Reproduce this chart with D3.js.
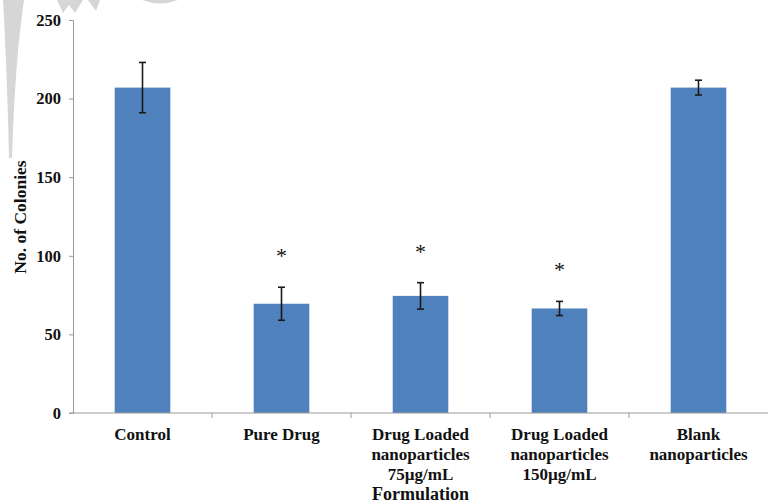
<!DOCTYPE html>
<html>
<head>
<meta charset="utf-8">
<script src="https://cdn.jsdelivr.net/npm/d3@7"></script>
<style>
  html, body { margin: 0; padding: 0; background: #fff; }
  svg { display: block; }
  text { font-family: "Liberation Serif", "Times New Roman", serif; font-weight: bold; fill: #111; }
</style>
</head>
<body>
<svg id="chart" width="768" height="504"></svg>
<script>
// Colony counts per formulation (mean and error)
const categories = [
  ["Control"],
  ["Pure Drug"],
  ["Drug Loaded", "nanoparticles", "75µg/mL"],
  ["Drug Loaded", "nanoparticles", "150µg/mL"],
  ["Blank", "nanoparticles"]
];
const means  = [207, 69.5, 74.5, 66.5, 207];
const errors = [16, 10.5, 8.4, 4.5, 4.7];
const significant = [false, true, true, true, false];
const yTicks = [0, 50, 100, 150, 200, 250];
const xTitle = "Formulation";
const yTitle = "No. of Colonies";

const svg = d3.select("#chart");
const m = { left: 73, right: 768, top: 20, bottom: 413 };

// faint grey mark in the top-left corner
const marks = svg.append("g").attr("fill", "#d6d6d6");
marks.append("path").attr("d", "M3,0 L24,0 Q15,60 12,158 L9,158 Q7,70 3,0 Z");
marks.append("path").attr("d", "M57,0 L83,0 L75,13 L69,5 L63,13 Z");
marks.append("path").attr("d", "M88,0 L100,0 L96,11 Z");
marks.append("path").attr("d", "M142,0 Q160,7 178,0 Z");

const keys = categories.map((c, i) => i);
const x = d3.scaleBand().domain(keys).range([m.left, m.right]).padding(0);
const y = d3.scaleLinear().domain([0, 250]).range([m.bottom, m.top]);
const barW = x.bandwidth() * 0.4;

// bars
svg.append("g").selectAll("rect").data(keys).join("rect")
  .attr("x", i => x(i) + (x.bandwidth() - barW) / 2)
  .attr("width", barW)
  .attr("y", i => y(means[i]))
  .attr("height", i => y(0) - y(means[i]))
  .attr("fill", "#4f81bd");

// error bars
const eb = svg.append("g").attr("stroke", "#1a1a1a").attr("stroke-width", 1.6);
keys.forEach(i => {
  const cx = x(i) + x.bandwidth() / 2;
  const hi = y(means[i] + errors[i]), lo = y(means[i] - errors[i]);
  eb.append("line").attr("x1", cx).attr("x2", cx).attr("y1", hi).attr("y2", lo);
  eb.append("line").attr("x1", cx - 3.5).attr("x2", cx + 3.5).attr("y1", hi).attr("y2", hi);
  eb.append("line").attr("x1", cx - 3.5).attr("x2", cx + 3.5).attr("y1", lo).attr("y2", lo);
});

// significance asterisks
svg.append("g").selectAll("text").data(keys.filter(i => significant[i])).join("text")
  .attr("x", i => x(i) + x.bandwidth() / 2)
  .attr("y", i => y(means[i] + errors[i]) - 24)
  .attr("text-anchor", "middle")
  .style("font-size", "22px").style("font-weight", "normal")
  .text("*");

// y axis
const yAxis = svg.append("g").attr("transform", `translate(${m.left},0)`)
  .call(d3.axisLeft(y).tickValues(yTicks).tickSize(4).tickPadding(8).tickFormat(d3.format("d")));
yAxis.attr("font-family", null);
yAxis.select(".domain").attr("stroke", "#9a9a9a");
yAxis.selectAll(".tick line").attr("stroke", "#9a9a9a");
yAxis.selectAll(".tick text").style("font-size", "16.5px").attr("fill", "#111");

// x axis line and category separators
const xg = svg.append("g");
xg.append("line").attr("x1", m.left - 4).attr("x2", m.right).attr("y1", y(0)).attr("y2", y(0))
  .attr("stroke", "#9a9a9a");
xg.selectAll("line.sep").data(keys.slice(1)).join("line").attr("class", "sep")
  .attr("x1", i => x(i)).attr("x2", i => x(i))
  .attr("y1", y(0)).attr("y2", y(0) + 5).attr("stroke", "#9a9a9a");

// category labels
xg.selectAll("text.cat").data(keys).join("text").attr("class", "cat")
  .attr("x", i => x(i) + x.bandwidth() / 2)
  .attr("y", y(0) + 27)
  .attr("text-anchor", "middle")
  .style("font-size", "17px")
  .each(function (i) {
    d3.select(this).selectAll("tspan").data(categories[i]).join("tspan")
      .attr("x", x(i) + x.bandwidth() / 2)
      .attr("dy", (d, k) => k === 0 ? 0 : 20)
      .text(d => d);
  });

// axis titles
svg.append("text").attr("x", (m.left + m.right) / 2).attr("y", 500)
  .attr("text-anchor", "middle").style("font-size", "18px").text(xTitle);
svg.append("text").attr("transform", `translate(26,${217}) rotate(-90)`)
  .attr("text-anchor", "middle").style("font-size", "17.5px").text(yTitle);
</script>
</body>
</html>
